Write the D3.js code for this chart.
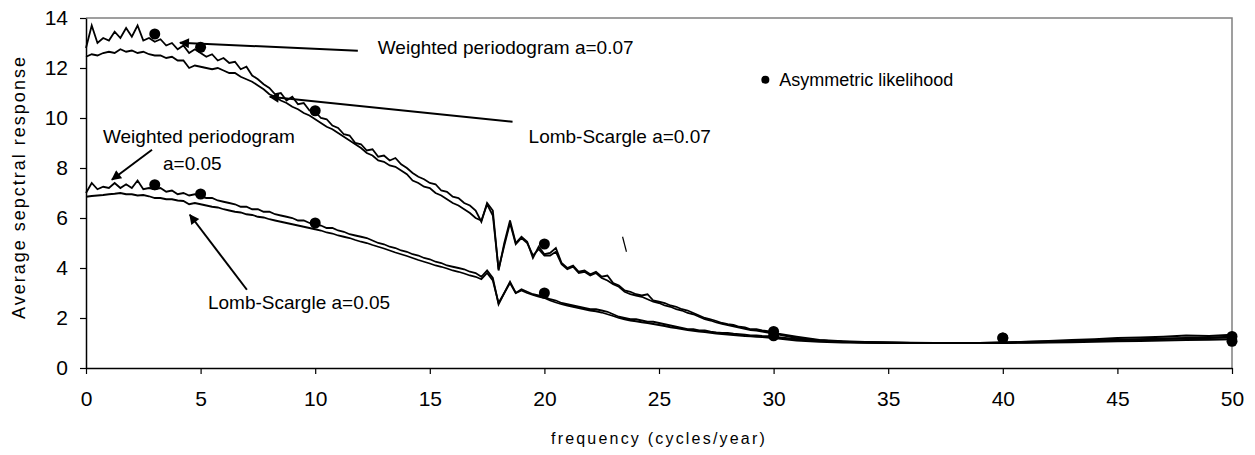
<!DOCTYPE html>
<html>
<head>
<meta charset="utf-8">
<script src="https://cdn.jsdelivr.net/npm/d3@7"></script>
<style>
  body { margin: 0; background: #fff; }
  text { font-family: "Liberation Sans", Arial, sans-serif; fill: #000; }
</style>
</head>
<body>
<div id="chart"></div>
<script>
// SVG size
var svg__Width = 1255;
var svg__Height = 455;

// plot area margins
var chart__Margin = { top: 18, right: 23, bottom: 87, left: 86 };
var chart__Width = svg__Width - chart__Margin.left - chart__Margin.right;
var chart__Height = svg__Height - chart__Margin.top - chart__Margin.bottom;

// frequency grid: 0..30 every 0.25, then 31..50 every 1
var freq = d3.range(0, 30.001, 0.25).concat(d3.range(31, 51, 1));

// weighted periodogram a=0.07
var wp07 = [
  12.8, 13.7, 13.0, 13.2,   13.1, 13.45, 13.2, 13.6,   13.25, 13.7, 13.1, 13.2,
  13.05, 13.15, 12.9, 13.0, 12.75, 12.9, 12.6, 12.75,  12.6, 12.45, 12.55, 12.3,
  12.4, 12.2, 12.25, 11.95, 12.05, 11.7, 11.55, 11.35, 11.2, 10.95, 11.0, 10.7,
  10.85, 10.55, 10.6, 10.3, 10.25, 10.0, 9.95, 9.7,    9.6, 9.35, 9.3, 9.0,
  8.95, 8.7, 8.75, 8.45,    8.5, 8.3, 8.4, 8.15,       8.0, 7.8, 7.65, 7.55,
  7.4, 7.35, 7.1, 7.05,     6.85, 6.8, 6.6, 6.5,       6.3, 5.85, 6.6, 6.3,
  3.9, 5.0, 5.9, 5.0,       5.25, 5.05, 4.4, 4.85,     4.55, 4.6, 4.8, 4.2,
  4.0, 4.1, 3.85, 3.9,      3.75, 3.85, 3.65, 3.7,     3.4, 3.3, 3.1, 3.05,
  2.95, 2.9, 2.95, 2.7,     2.65, 2.6, 2.5, 2.45,      2.35, 2.3, 2.2, 2.1,
  2.0, 1.95, 1.88, 1.8,     1.75, 1.72, 1.65, 1.62,    1.55, 1.55, 1.5, 1.47,
  1.4,
  1.25, 1.12, 1.07, 1.04, 1.02, 1.01, 1.0, 1.0, 1.0, 1.02,
  1.05, 1.08, 1.12, 1.15, 1.2, 1.22, 1.25, 1.3, 1.28, 1.33
];

// Lomb-Scargle a=0.07
var ls07 = [
  12.45, 12.55, 12.5, 12.6, 12.65, 12.6, 12.75, 12.65, 12.7, 12.6, 12.65, 12.55,
  12.5, 12.5, 12.4, 12.45,  12.3, 12.3, 12.0, 12.1,    12.05, 12.0, 11.95, 12.0,
  11.9, 11.8, 11.8, 11.65,  11.55, 11.45, 11.3, 11.15, 10.95, 10.85, 10.7, 10.6,
  10.45, 10.35, 10.2, 10.1, 9.95, 9.8, 9.65, 9.55,     9.4, 9.25, 9.1, 8.95,
  8.8, 8.6, 8.5, 8.3,       8.25, 8.1, 8.05, 7.9,      7.75, 7.5, 7.4, 7.25,
  7.2, 7.0, 6.9, 6.75,      6.6, 6.5, 6.35, 6.2,       6.0, 5.9, 6.55, 6.1,
  3.95, 4.9, 5.8, 4.95,     5.2, 5.0, 4.5, 4.75,       4.5, 4.5, 4.65, 4.15,
  3.95, 4.05, 3.8, 3.85,    3.7, 3.8, 3.6, 3.5,        3.35, 3.25, 3.05, 2.95,
  2.9, 2.85, 2.75, 2.65,    2.6, 2.5, 2.45, 2.35,      2.3, 2.2, 2.15, 2.05,
  1.95, 1.9, 1.82, 1.77,    1.72, 1.67, 1.62, 1.57,    1.52, 1.5, 1.46, 1.42,
  1.38,
  1.2, 1.1, 1.05, 1.02, 1.01, 1.0, 1.0, 1.0, 1.0, 1.0,
  1.02, 1.04, 1.07, 1.1, 1.12, 1.15, 1.18, 1.2, 1.22, 1.25
];

// weighted periodogram a=0.05
var wp05 = [
  7.0, 7.4, 7.15, 7.25,     7.2, 7.4, 7.2, 7.35,       7.2, 7.5, 7.15, 7.2,
  7.15, 7.2, 7.05, 7.1,     6.95, 7.0, 6.9, 6.95,      6.85, 6.8, 6.8, 6.7,
  6.65, 6.6, 6.55, 6.45,    6.45, 6.35, 6.35, 6.25,    6.25, 6.15, 6.1, 6.05,
  6.0, 5.9, 5.9, 5.8,       5.75, 5.7, 5.6, 5.6,       5.5, 5.45, 5.35, 5.3,
  5.25, 5.2, 5.1, 5.0,      4.95, 4.85, 4.8, 4.7,      4.65, 4.55, 4.5, 4.4,
  4.35, 4.25, 4.2, 4.1,     4.05, 4.0, 3.95, 3.85,     3.8, 3.65, 3.9, 3.6,
  2.55, 3.0, 3.45, 3.0,     3.15, 3.05, 2.95, 2.9,     2.85, 2.75, 2.7, 2.6,
  2.55, 2.5, 2.45, 2.4,     2.35, 2.35, 2.3, 2.25,     2.15, 2.05, 2.0, 1.95,
  1.95, 1.9, 1.85, 1.85,    1.8, 1.75, 1.7, 1.65,      1.6, 1.55, 1.55, 1.5,
  1.5, 1.45, 1.42, 1.4,     1.4, 1.37, 1.35, 1.33,     1.3, 1.3, 1.28, 1.27,
  1.25,
  1.15, 1.1, 1.05, 1.03, 1.02, 1.0, 1.0, 1.0, 1.0, 1.02,
  1.04, 1.06, 1.08, 1.1, 1.12, 1.14, 1.16, 1.18, 1.2, 1.22
];

// Lomb-Scargle a=0.05
var ls05 = [
  6.85, 6.88, 6.9, 6.92,    6.95, 6.97, 7.0, 6.95,     6.95, 6.9, 6.92, 6.87,
  6.8, 6.8, 6.75, 6.75,     6.7, 6.68, 6.55, 6.6,      6.55, 6.5, 6.45, 6.42,
  6.35, 6.3, 6.25, 6.22,    6.15, 6.12, 6.05, 6.02,    5.95, 5.9, 5.85, 5.8,
  5.75, 5.7, 5.65, 5.6,     5.55, 5.5, 5.42, 5.38,     5.3, 5.25, 5.2, 5.12,
  5.05, 5.0, 4.92, 4.85,    4.78, 4.7, 4.62, 4.55,     4.48, 4.4, 4.32, 4.25,
  4.18, 4.1, 4.05, 3.98,    3.9, 3.85, 3.78, 3.7,      3.65, 3.55, 3.8, 3.5,
  2.6, 3.0, 3.4, 3.0,       3.1, 3.0, 2.92, 2.85,      2.8, 2.7, 2.62, 2.55,
  2.5, 2.45, 2.4, 2.35,     2.3, 2.27, 2.22, 2.15,     2.08, 2.0, 1.95, 1.9,
  1.87, 1.83, 1.8, 1.76,    1.72, 1.68, 1.63, 1.6,     1.56, 1.52, 1.49, 1.46,
  1.44, 1.41, 1.38, 1.36,   1.34, 1.32, 1.3, 1.28,     1.27, 1.25, 1.24, 1.22,
  1.2,
  1.1, 1.05, 1.02, 1.01, 1.0, 1.0, 1.0, 1.0, 1.0, 1.0,
  1.01, 1.02, 1.03, 1.05, 1.07, 1.08, 1.1, 1.12, 1.13, 1.15
];

// asymmetric likelihood points
var alFreq = [3, 5, 10, 20, 30, 40, 50];
var al07 = [13.36, 12.83, 10.29, 4.96, 1.46, 1.2, 1.26];
var al05 = [7.33, 6.96, 5.8, 3.0, 1.29, 1.2, 1.07];

// axis ticks
var xTicks = [0, 5, 10, 15, 20, 25, 30, 35, 40, 45, 50];
var yTicks = [0, 2, 4, 6, 8, 10, 12, 14];

// annotation labels (data units)
var labels = [
  { text: "Weighted periodogram a=0.07", f: 12.73, v: 12.81 },
  { text: "Lomb-Scargle a=0.07", f: 19.31, v: 9.25 },
  { text: "Weighted periodogram", f: 0.74, v: 9.25 },
  { text: "a=0.05", f: 3.36, v: 8.17 },
  { text: "Lomb-Scargle a=0.05", f: 5.32, v: 2.61 }
];
// arrows: from (f1,v1) to head at (f2,v2)
var arrows = [
  [11.86, 12.69, 4.10, 13.01],
  [18.61, 9.85, 8.02, 10.85],
  [2.88, 8.73, 1.13, 7.53],
  [7.02, 3.13, 4.53, 6.13]
];

var svg = d3.select("#chart")
  .append("svg")
  .attr("width", svg__Width)
  .attr("height", svg__Height);

svg.append("defs").append("marker")
  .attr("id", "head")
  .attr("viewBox", "0 0 10 10")
  .attr("refX", 9)
  .attr("refY", 5)
  .attr("markerUnits", "userSpaceOnUse")
  .attr("markerWidth", 12)
  .attr("markerHeight", 10)
  .attr("orient", "auto")
  .append("path")
  .attr("d", "M0,0L10,5L0,10Z")
  .attr("fill", "#000");

var chart__Group = svg.append("g")
  .attr("transform", `translate(${chart__Margin.left}, ${chart__Margin.top})`);

var x__Scale = d3.scaleLinear().domain([0, 50]).range([0, chart__Width]);
var y__Scale = d3.scaleLinear().domain([0, 14]).range([chart__Height, 0]);

// grey frame top/right
chart__Group.append("path")
  .attr("d", `M0,0H${chart__Width}V${chart__Height}`)
  .attr("fill", "none")
  .attr("stroke", "#808080")
  .attr("stroke-width", 1.5);

// axes
var left__Axis = d3.axisLeft(y__Scale).tickValues(yTicks).tickSize(6).tickPadding(12).tickSizeOuter(0);
var bottom__Axis = d3.axisBottom(x__Scale).tickValues(xTicks).tickSize(6).tickPadding(17).tickSizeOuter(0);

var yAxis = chart__Group.append("g").call(left__Axis);
var xAxis = chart__Group.append("g")
  .attr("transform", `translate(0, ${chart__Height})`)
  .call(bottom__Axis);

[yAxis, xAxis].forEach(function(ax) {
  ax.select(".domain").attr("stroke", "#000").attr("stroke-width", 1.5);
  ax.selectAll(".tick line").attr("stroke", "#000").attr("stroke-width", 1.2);
  ax.selectAll(".tick text")
    .style("font-family", '"Liberation Sans", Arial, sans-serif')
    .style("font-size", "21px")
    .attr("fill", "#000");
});

// lines
var line = d3.line()
  .x(function(d) { return x__Scale(d[0]); })
  .y(function(d) { return y__Scale(d[1]); });

[ls07, wp07, ls05, wp05].forEach(function(series) {
  chart__Group.append("path")
    .datum(freq.map(function(f, i) { return [f, series[i]]; }))
    .attr("d", line)
    .attr("fill", "none")
    .attr("stroke", "#000")
    .attr("stroke-width", 1.8)
    .attr("stroke-linejoin", "miter");
});

// asymmetric likelihood dots
[al07, al05].forEach(function(series) {
  chart__Group.selectAll(null)
    .data(alFreq.map(function(f, i) { return [f, series[i]]; }))
    .enter()
    .append("circle")
    .attr("cx", d => x__Scale(d[0]))
    .attr("cy", d => y__Scale(d[1]))
    .attr("r", 5.5)
    .attr("fill", "#000");
});

// legend
chart__Group.append("circle")
  .attr("cx", x__Scale(29.64))
  .attr("cy", y__Scale(11.53))
  .attr("r", 4)
  .attr("fill", "#000");
chart__Group.append("text")
  .attr("x", x__Scale(30.25))
  .attr("y", y__Scale(11.53))
  .attr("dy", "0.35em")
  .style("font-size", "18px")
  .text("Asymmetric likelihood");

// annotations
chart__Group.selectAll(".lbl")
  .data(labels)
  .enter()
  .append("text")
  .attr("class", "lbl")
  .attr("x", d => x__Scale(d.f))
  .attr("y", d => y__Scale(d.v))
  .attr("dy", "0.35em")
  .style("font-size", "19px")
  .text(d => d.text);

chart__Group.selectAll(".arr")
  .data(arrows)
  .enter()
  .append("line")
  .attr("class", "arr")
  .attr("x1", d => x__Scale(d[0]))
  .attr("y1", d => y__Scale(d[1]))
  .attr("x2", d => x__Scale(d[2]))
  .attr("y2", d => y__Scale(d[3]))
  .attr("stroke", "#000")
  .attr("stroke-width", 2)
  .attr("marker-end", "url(#head)");

// stray backslash mark
chart__Group.append("line")
  .attr("x1", x__Scale(23.41)).attr("y1", y__Scale(5.25))
  .attr("x2", x__Scale(23.58)).attr("y2", y__Scale(4.65))
  .attr("stroke", "#000")
  .attr("stroke-width", 1.2);

// axis titles
svg.append("text")
  .attr("x", chart__Margin.left + chart__Width / 2)
  .attr("y", 438)
  .attr("dy", "0.35em")
  .attr("text-anchor", "middle")
  .style("font-size", "16px")
  .style("letter-spacing", "2.2px")
  .text("frequency (cycles/year)");

svg.append("text")
  .attr("transform", "translate(19, 187) rotate(-90)")
  .attr("dy", "0.35em")
  .attr("text-anchor", "middle")
  .style("font-size", "18px")
  .style("letter-spacing", "2px")
  .text("Average sepctral response");
</script>
</body>
</html>
